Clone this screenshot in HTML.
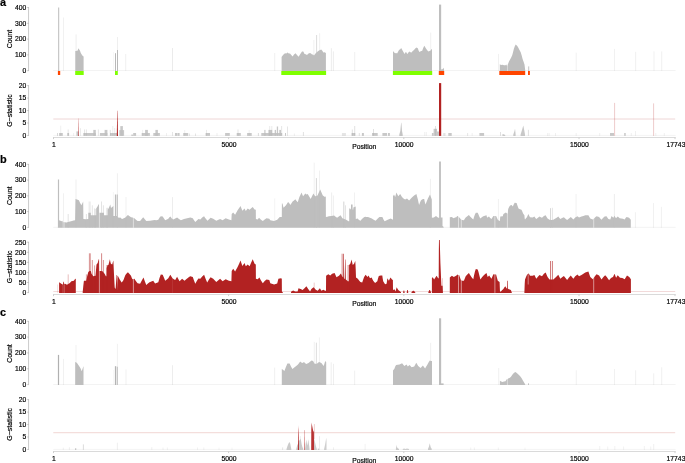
<!DOCTYPE html>
<html lang="en">
<head>
<meta charset="utf-8">
<title>Coverage and G-statistic by position</title>
<style>
html,body{margin:0;padding:0;background:#fff;}
body{width:685px;height:463px;overflow:hidden;}
svg{display:block;}
svg text{font-family:"Liberation Sans", sans-serif;fill:#000;stroke:#000;stroke-width:0.18px;}
</style>
</head>
<body>
<svg width="685" height="463" viewBox="0 0 685 463">
<rect x="0" y="0" width="685" height="463" fill="#ffffff"/>
<text x="0" y="6" font-size="10.9" text-anchor="start" font-weight="bold">a</text>
<line x1="28.55" y1="7.2" x2="28.55" y2="71" stroke="#b4b4b4" stroke-width="0.7"/>
<line x1="27.2" y1="7.5" x2="28.9" y2="7.5" stroke="#b4b4b4" stroke-width="0.7"/>
<text x="26.2" y="9.85" font-size="6.75" text-anchor="end">400</text>
<line x1="27.2" y1="23.3" x2="28.9" y2="23.3" stroke="#b4b4b4" stroke-width="0.7"/>
<text x="26.2" y="25.65" font-size="6.75" text-anchor="end">300</text>
<line x1="27.2" y1="39.1" x2="28.9" y2="39.1" stroke="#b4b4b4" stroke-width="0.7"/>
<text x="26.2" y="41.45" font-size="6.75" text-anchor="end">200</text>
<line x1="27.2" y1="54.9" x2="28.9" y2="54.9" stroke="#b4b4b4" stroke-width="0.7"/>
<text x="26.2" y="57.25" font-size="6.75" text-anchor="end">100</text>
<line x1="27.2" y1="70.7" x2="28.9" y2="70.7" stroke="#b4b4b4" stroke-width="0.7"/>
<text x="26.2" y="73.05" font-size="6.75" text-anchor="end">0</text>
<text x="12.3" y="39.1" font-size="6.95" text-anchor="middle" transform="rotate(-90 12.3 39.1)">Count</text>
<line x1="53.3" y1="70.5" x2="675.6" y2="70.5" stroke="#f3f3f3" stroke-width="1"/>
<rect x="57.9" y="71" width="2.3" height="4" fill="#ff4500"/>
<rect x="75.2" y="71" width="8.5" height="4" fill="#7fff00"/>
<rect x="115" y="71" width="2.8" height="4" fill="#7fff00"/>
<rect x="281.3" y="71" width="44.8" height="4" fill="#7fff00"/>
<rect x="392.9" y="71" width="39.3" height="4" fill="#7fff00"/>
<rect x="438.8" y="71" width="5.4" height="4" fill="#ff4500"/>
<rect x="499.3" y="71" width="25.9" height="4" fill="#ff4500"/>
<rect x="528" y="71" width="1.9" height="4" fill="#ff4500"/>
<line x1="58.7" y1="7.5" x2="58.7" y2="71" stroke="#a0a0a0" stroke-width="0.8" stroke-opacity="0.9"/>
<line x1="63.5" y1="17.5" x2="63.5" y2="71" stroke="#bebebe" stroke-width="0.7" stroke-opacity="0.3"/>
<line x1="76.1" y1="34.4" x2="76.1" y2="71" stroke="#bebebe" stroke-width="0.7" stroke-opacity="0.35"/>
<polygon points="75.3,71 75.3,50.9 77.5,50.7 78.5,48.2 79.2,49.6 80,50.7 80.8,53 82,55 82.8,56 83.6,56.5 83.6,71" fill="#bebebe"/>
<rect x="115" y="53.2" width="0.8" height="17.8" fill="#a8a8a8"/>
<rect x="117.1" y="50" width="0.8" height="21" fill="#a8a8a8"/>
<line x1="117.5" y1="37" x2="117.5" y2="50" stroke="#bebebe" stroke-width="0.7" stroke-opacity="0.35"/>
<line x1="113.4" y1="52" x2="113.4" y2="71" stroke="#bebebe" stroke-width="0.7" stroke-opacity="0.15"/>
<line x1="125.7" y1="54" x2="125.7" y2="71" stroke="#bebebe" stroke-width="0.7" stroke-opacity="0.3"/>
<line x1="172.5" y1="48" x2="172.5" y2="71" stroke="#bebebe" stroke-width="0.7" stroke-opacity="0.45"/>
<line x1="274.7" y1="53" x2="274.7" y2="71" stroke="#bebebe" stroke-width="0.7" stroke-opacity="0.3"/>
<line x1="313.9" y1="40" x2="313.9" y2="71" stroke="#bebebe" stroke-width="0.7" stroke-opacity="0.3"/>
<line x1="316.6" y1="35" x2="316.6" y2="71" stroke="#bebebe" stroke-width="0.7" stroke-opacity="0.8"/>
<line x1="319.6" y1="33.2" x2="319.6" y2="71" stroke="#bebebe" stroke-width="0.7" stroke-opacity="0.3"/>
<line x1="331.4" y1="48.2" x2="331.4" y2="71" stroke="#bebebe" stroke-width="0.7" stroke-opacity="0.4"/>
<line x1="333.4" y1="51.4" x2="333.4" y2="71" stroke="#bebebe" stroke-width="0.7" stroke-opacity="0.4"/>
<line x1="354.7" y1="52" x2="354.7" y2="71" stroke="#bebebe" stroke-width="0.7" stroke-opacity="0.3"/>
<line x1="430.7" y1="32.6" x2="430.7" y2="71" stroke="#bebebe" stroke-width="0.7" stroke-opacity="0.3"/>
<line x1="498.5" y1="53.9" x2="498.5" y2="71" stroke="#bebebe" stroke-width="0.7" stroke-opacity="0.3"/>
<line x1="576.2" y1="52.7" x2="576.2" y2="71" stroke="#bebebe" stroke-width="0.7" stroke-opacity="0.3"/>
<line x1="614.5" y1="48.9" x2="614.5" y2="71" stroke="#bebebe" stroke-width="0.7" stroke-opacity="0.3"/>
<line x1="635.6" y1="51.9" x2="635.6" y2="71" stroke="#bebebe" stroke-width="0.7" stroke-opacity="0.3"/>
<line x1="654" y1="51.4" x2="654" y2="71" stroke="#bebebe" stroke-width="0.7" stroke-opacity="0.3"/>
<line x1="661.7" y1="51.4" x2="661.7" y2="71" stroke="#bebebe" stroke-width="0.7" stroke-opacity="0.3"/>
<polygon points="281.6,71 281.6,57 281.9,56.4 283.5,54.5 285,53.3 286.3,53.5 287.6,52.4 288.8,53.4 290,53.6 291.3,55 292.6,56.4 294,54.6 295.5,53.3 297,55 298.6,56.8 300.3,54 302,51.4 303.3,51.6 304.5,54.1 305.7,54.2 307,54.9 308.5,53.5 310,52.9 311,53.5 312,54.5 313,54.6 314,55.4 315.5,53.5 317,52 319,50.5 321.2,49.5 322.3,50.8 323.4,52.4 324.6,52.2 325.9,52.9 325.9,71" fill="#bebebe"/>
<polygon points="393,71 393,51.1 394.2,52.5 395.2,53.3 396.1,53 397.1,53.6 399,50.1 400.2,49.3 401.2,47.9 402.7,50.8 403.7,52.5 404.6,53.9 405.3,52.6 406.1,52 406.8,53.2 407.5,54.1 408.4,52.5 409.3,51.4 410.4,52.2 411.5,52.4 412.7,51 414,50.1 415.2,48.6 416.5,47.4 417.8,48.2 418.6,50.4 419.3,52 420.7,51.2 422.2,50.8 423.2,48 424.3,45.7 425.2,47.3 426,48.6 427.2,50.2 428.5,51.6 429.5,51 430.4,50.8 431.2,49.5 432,48.9 432,71" fill="#bebebe"/>
<rect x="439" y="4.6" width="2.15" height="66.4" fill="#bebebe"/>
<polygon points="440.9,71 440.9,69.5 442.5,69.2 443.5,67.7 444,69.5 444,71" fill="#bebebe"/>
<polygon points="499.8,71 499.8,64.3 501,65 502.5,64.8 504,65.3 505.5,65.2 506.2,64.6 507,65.8 507.2,65.8 508,63.9 509,61.6 510.1,59.5 511.2,57.6 512.3,55.1 513.1,52 513.9,48.8 514.8,46.2 515.7,44.4 516.5,45.2 517.3,46.1 518.2,47.6 519.5,50 520.8,52.6 521.7,55.6 522.6,58.9 523.5,61.6 524.5,64.5 525.2,70 525.2,71" fill="#bebebe"/>
<line x1="507.5" y1="64.5" x2="507.5" y2="71" stroke="#fff" stroke-width="0.45" stroke-opacity="0.85"/>
<line x1="528.7" y1="66.4" x2="528.7" y2="71" stroke="#999" stroke-width="0.6" stroke-opacity="0.9"/>
<line x1="28.55" y1="85.3" x2="28.55" y2="135.8" stroke="#b4b4b4" stroke-width="0.7"/>
<line x1="27.2" y1="85.6" x2="28.9" y2="85.6" stroke="#b4b4b4" stroke-width="0.7"/>
<text x="26.2" y="87.95" font-size="6.75" text-anchor="end">20</text>
<line x1="27.2" y1="98.1" x2="28.9" y2="98.1" stroke="#b4b4b4" stroke-width="0.7"/>
<text x="26.2" y="100.45" font-size="6.75" text-anchor="end">15</text>
<line x1="27.2" y1="110.55" x2="28.9" y2="110.55" stroke="#b4b4b4" stroke-width="0.7"/>
<text x="26.2" y="112.9" font-size="6.75" text-anchor="end">10</text>
<line x1="27.2" y1="123" x2="28.9" y2="123" stroke="#b4b4b4" stroke-width="0.7"/>
<text x="26.2" y="125.35" font-size="6.75" text-anchor="end">5</text>
<line x1="27.2" y1="135.5" x2="28.9" y2="135.5" stroke="#b4b4b4" stroke-width="0.7"/>
<text x="26.2" y="137.85" font-size="6.75" text-anchor="end">0</text>
<text x="12.3" y="110.5" font-size="6.95" text-anchor="middle" transform="rotate(-90 12.3 110.5)">G−statistic</text>
<line x1="53.3" y1="119" x2="675.2" y2="119" stroke="#efd6d6" stroke-width="1"/>
<line x1="53" y1="137.5" x2="675.7" y2="137.5" stroke="#dadada" stroke-width="1"/>
<line x1="53.5" y1="137.5" x2="53.5" y2="139.1" stroke="#c4c4c4" stroke-width="0.8"/>
<text x="53.8" y="146.6" font-size="6.75" text-anchor="middle">1</text>
<line x1="228.6" y1="137.5" x2="228.6" y2="139.1" stroke="#c4c4c4" stroke-width="0.8"/>
<text x="228.9" y="146.6" font-size="6.75" text-anchor="middle">5000</text>
<line x1="403.8" y1="137.5" x2="403.8" y2="139.1" stroke="#c4c4c4" stroke-width="0.8"/>
<text x="404.1" y="146.6" font-size="6.75" text-anchor="middle">10000</text>
<line x1="579" y1="137.5" x2="579" y2="139.1" stroke="#c4c4c4" stroke-width="0.8"/>
<text x="579.3" y="146.6" font-size="6.75" text-anchor="middle">15000</text>
<line x1="675" y1="137.5" x2="675" y2="139.1" stroke="#c4c4c4" stroke-width="0.8"/>
<text x="676" y="146.6" font-size="6.75" text-anchor="middle">17743</text>
<text x="364.2" y="149.1" font-size="6.75" text-anchor="middle">Position</text>
<line x1="53.3" y1="135.4" x2="675.6" y2="135.4" stroke="#f4f4f4" stroke-width="1"/>
<rect x="57.2" y="133" width="0.7" height="2.9" fill="#bebebe" fill-opacity="0.85"/>
<rect x="59.1" y="133" width="3.7" height="2.9" fill="#bebebe" fill-opacity="0.85"/>
<rect x="67.3" y="133" width="1.8" height="2.9" fill="#bebebe" fill-opacity="0.85"/>
<rect x="76.4" y="131.4" width="2.2" height="4.5" fill="#bebebe" fill-opacity="0.85"/>
<rect x="83.3" y="133" width="12.5" height="2.9" fill="#bebebe" fill-opacity="0.85"/>
<rect x="93.3" y="129.9" width="2.5" height="6" fill="#bebebe" fill-opacity="0.85"/>
<rect x="99.9" y="133" width="7.5" height="2.9" fill="#bebebe" fill-opacity="0.85"/>
<rect x="104.6" y="129.9" width="2.8" height="6" fill="#bebebe" fill-opacity="0.85"/>
<rect x="110" y="133" width="7.2" height="2.9" fill="#bebebe" fill-opacity="0.85"/>
<rect x="119.3" y="130.1" width="4.8" height="5.8" fill="#bebebe" fill-opacity="0.85"/>
<rect x="120.3" y="126.1" width="2.6" height="9.8" fill="#bebebe" fill-opacity="0.85"/>
<rect x="131.3" y="134.6" width="1.9" height="1.3" fill="#bebebe" fill-opacity="0.85"/>
<rect x="133.2" y="133" width="2.9" height="2.9" fill="#bebebe" fill-opacity="0.85"/>
<rect x="141.7" y="133" width="8.2" height="2.9" fill="#bebebe" fill-opacity="0.85"/>
<rect x="145.1" y="129.9" width="2.8" height="6" fill="#bebebe" fill-opacity="0.85"/>
<rect x="153.3" y="133" width="6.6" height="2.9" fill="#bebebe" fill-opacity="0.85"/>
<rect x="155.4" y="129.9" width="2.5" height="6" fill="#bebebe" fill-opacity="0.85"/>
<rect x="175" y="133" width="2.2" height="2.9" fill="#bebebe" fill-opacity="0.85"/>
<rect x="177.5" y="133" width="2.1" height="2.9" fill="#bebebe" fill-opacity="0.85"/>
<rect x="183.2" y="133" width="5" height="2.9" fill="#bebebe" fill-opacity="0.85"/>
<rect x="205.6" y="133" width="4.4" height="2.9" fill="#bebebe" fill-opacity="0.85"/>
<rect x="225.1" y="133" width="4.7" height="2.9" fill="#bebebe" fill-opacity="0.85"/>
<rect x="236.7" y="133" width="4.1" height="2.9" fill="#bebebe" fill-opacity="0.85"/>
<rect x="247.1" y="133" width="4.6" height="2.9" fill="#bebebe" fill-opacity="0.85"/>
<rect x="261.3" y="133" width="20.9" height="2.9" fill="#bebebe" fill-opacity="0.85"/>
<rect x="264.3" y="129.9" width="1.2" height="6" fill="#bebebe" fill-opacity="0.85"/>
<rect x="268.4" y="129.9" width="3.8" height="6" fill="#bebebe" fill-opacity="0.85"/>
<rect x="274.7" y="129.9" width="1.3" height="6" fill="#bebebe" fill-opacity="0.85"/>
<rect x="276.8" y="126.5" width="1.3" height="9.4" fill="#bebebe" fill-opacity="0.85"/>
<rect x="279.3" y="129.9" width="1.7" height="6" fill="#bebebe" fill-opacity="0.85"/>
<rect x="285" y="133" width="1" height="2.9" fill="#bebebe" fill-opacity="0.85"/>
<rect x="351.6" y="133" width="3.7" height="2.9" fill="#bebebe" fill-opacity="0.85"/>
<rect x="361.9" y="133" width="2" height="2.9" fill="#bebebe" fill-opacity="0.85"/>
<rect x="372" y="133" width="5.7" height="2.9" fill="#bebebe" fill-opacity="0.85"/>
<rect x="382.4" y="133" width="4.7" height="2.9" fill="#bebebe" fill-opacity="0.85"/>
<rect x="388" y="133" width="1.9" height="2.9" fill="#bebebe" fill-opacity="0.85"/>
<rect x="431.9" y="133" width="1.7" height="2.9" fill="#bebebe" fill-opacity="0.85"/>
<rect x="433.6" y="128.8" width="3.4" height="7.1" fill="#bebebe" fill-opacity="0.85"/>
<rect x="437" y="131.5" width="2.2" height="4.4" fill="#bebebe" fill-opacity="0.85"/>
<rect x="448.3" y="133" width="3.4" height="2.9" fill="#bebebe" fill-opacity="0.85"/>
<rect x="479.4" y="133" width="4.7" height="2.9" fill="#bebebe" fill-opacity="0.85"/>
<rect x="610" y="133" width="4" height="2.9" fill="#bebebe" fill-opacity="0.85"/>
<rect x="624.2" y="133" width="1.5" height="2.9" fill="#bebebe" fill-opacity="0.85"/>
<rect x="341.9" y="133" width="4" height="2.9" fill="#bebebe" fill-opacity="0.4"/>
<rect x="443.2" y="133" width="2.3" height="2.9" fill="#bebebe" fill-opacity="0.4"/>
<rect x="189" y="133.5" width="1" height="2.4" fill="#bebebe" fill-opacity="0.4"/>
<rect x="195" y="133.5" width="1" height="2.4" fill="#bebebe" fill-opacity="0.4"/>
<line x1="60.7" y1="125.7" x2="60.7" y2="135.9" stroke="#aaa" stroke-width="0.6" stroke-opacity="0.3"/>
<line x1="68.2" y1="129.5" x2="68.2" y2="135.9" stroke="#aaa" stroke-width="0.6" stroke-opacity="0.5"/>
<line x1="73.6" y1="133" x2="73.6" y2="135.9" stroke="#aaa" stroke-width="0.6" stroke-opacity="0.3"/>
<line x1="80.5" y1="128.2" x2="80.5" y2="135.9" stroke="#aaa" stroke-width="0.6" stroke-opacity="0.4"/>
<line x1="84.5" y1="129.5" x2="84.5" y2="135.9" stroke="#aaa" stroke-width="0.6" stroke-opacity="0.5"/>
<line x1="86.4" y1="129.5" x2="86.4" y2="135.9" stroke="#aaa" stroke-width="0.6" stroke-opacity="0.5"/>
<line x1="98.4" y1="129.5" x2="98.4" y2="135.9" stroke="#aaa" stroke-width="0.6" stroke-opacity="0.5"/>
<line x1="110.3" y1="129.9" x2="110.3" y2="135.9" stroke="#aaa" stroke-width="0.6" stroke-opacity="0.6"/>
<line x1="112.8" y1="126" x2="112.8" y2="135.9" stroke="#aaa" stroke-width="0.6" stroke-opacity="0.35"/>
<line x1="114.7" y1="128" x2="114.7" y2="135.9" stroke="#aaa" stroke-width="0.6" stroke-opacity="0.4"/>
<line x1="142.6" y1="129.9" x2="142.6" y2="135.9" stroke="#aaa" stroke-width="0.6" stroke-opacity="0.3"/>
<line x1="166.5" y1="133" x2="166.5" y2="135.9" stroke="#aaa" stroke-width="0.6" stroke-opacity="0.3"/>
<line x1="172.5" y1="132" x2="172.5" y2="135.9" stroke="#aaa" stroke-width="0.6" stroke-opacity="0.5"/>
<line x1="184.7" y1="130" x2="184.7" y2="135.9" stroke="#aaa" stroke-width="0.6" stroke-opacity="0.3"/>
<line x1="206.5" y1="129.9" x2="206.5" y2="135.9" stroke="#aaa" stroke-width="0.6" stroke-opacity="0.4"/>
<line x1="217" y1="133" x2="217" y2="135.9" stroke="#aaa" stroke-width="0.6" stroke-opacity="0.3"/>
<line x1="238" y1="129.5" x2="238" y2="135.9" stroke="#aaa" stroke-width="0.6" stroke-opacity="0.5"/>
<line x1="249.2" y1="130" x2="249.2" y2="135.9" stroke="#aaa" stroke-width="0.6" stroke-opacity="0.3"/>
<line x1="258.4" y1="133" x2="258.4" y2="135.9" stroke="#aaa" stroke-width="0.6" stroke-opacity="0.7"/>
<line x1="269.7" y1="126" x2="269.7" y2="135.9" stroke="#aaa" stroke-width="0.6" stroke-opacity="0.4"/>
<line x1="271.8" y1="126" x2="271.8" y2="135.9" stroke="#aaa" stroke-width="0.6" stroke-opacity="0.4"/>
<line x1="281.6" y1="126" x2="281.6" y2="135.9" stroke="#aaa" stroke-width="0.6" stroke-opacity="0.5"/>
<line x1="287.5" y1="126.5" x2="287.5" y2="135.9" stroke="#aaa" stroke-width="0.6" stroke-opacity="0.5"/>
<line x1="294.4" y1="133.5" x2="294.4" y2="135.9" stroke="#aaa" stroke-width="0.6" stroke-opacity="0.3"/>
<line x1="303.4" y1="132" x2="303.4" y2="135.9" stroke="#aaa" stroke-width="0.6" stroke-opacity="0.6"/>
<line x1="352.3" y1="129.5" x2="352.3" y2="135.9" stroke="#aaa" stroke-width="0.6" stroke-opacity="0.6"/>
<line x1="354.7" y1="126" x2="354.7" y2="135.9" stroke="#aaa" stroke-width="0.6" stroke-opacity="0.6"/>
<line x1="359.3" y1="133" x2="359.3" y2="135.9" stroke="#aaa" stroke-width="0.6" stroke-opacity="0.6"/>
<line x1="373.5" y1="129" x2="373.5" y2="135.9" stroke="#aaa" stroke-width="0.6" stroke-opacity="0.6"/>
<line x1="424.7" y1="132" x2="424.7" y2="135.9" stroke="#aaa" stroke-width="0.6" stroke-opacity="0.3"/>
<line x1="426.3" y1="132" x2="426.3" y2="135.9" stroke="#aaa" stroke-width="0.6" stroke-opacity="0.3"/>
<line x1="435.5" y1="126" x2="435.5" y2="135.9" stroke="#aaa" stroke-width="0.6" stroke-opacity="0.6"/>
<line x1="467.6" y1="133" x2="467.6" y2="135.9" stroke="#aaa" stroke-width="0.6" stroke-opacity="0.5"/>
<line x1="472.2" y1="133" x2="472.2" y2="135.9" stroke="#aaa" stroke-width="0.6" stroke-opacity="0.3"/>
<line x1="500.5" y1="132" x2="500.5" y2="135.9" stroke="#aaa" stroke-width="0.6" stroke-opacity="0.6"/>
<line x1="528.4" y1="129.8" x2="528.4" y2="135.9" stroke="#aaa" stroke-width="0.6" stroke-opacity="0.6"/>
<line x1="547.6" y1="133" x2="547.6" y2="135.9" stroke="#aaa" stroke-width="0.6" stroke-opacity="0.3"/>
<line x1="549.1" y1="133" x2="549.1" y2="135.9" stroke="#aaa" stroke-width="0.6" stroke-opacity="0.3"/>
<line x1="555.5" y1="133" x2="555.5" y2="135.9" stroke="#aaa" stroke-width="0.6" stroke-opacity="0.3"/>
<line x1="576.2" y1="133" x2="576.2" y2="135.9" stroke="#aaa" stroke-width="0.6" stroke-opacity="0.3"/>
<line x1="599.7" y1="133" x2="599.7" y2="135.9" stroke="#aaa" stroke-width="0.6" stroke-opacity="0.3"/>
<line x1="631.3" y1="133" x2="631.3" y2="135.9" stroke="#aaa" stroke-width="0.6" stroke-opacity="0.3"/>
<line x1="635.5" y1="131" x2="635.5" y2="135.9" stroke="#aaa" stroke-width="0.6" stroke-opacity="0.3"/>
<line x1="655.8" y1="133" x2="655.8" y2="135.9" stroke="#aaa" stroke-width="0.6" stroke-opacity="0.3"/>
<line x1="664.3" y1="133" x2="664.3" y2="135.9" stroke="#aaa" stroke-width="0.6" stroke-opacity="0.3"/>
<polygon points="399.3,135.9 399.3,134.5 400.3,131 401,124 401.2,122.3 401.5,124 402,131 402.7,134.5 402.7,135.9" fill="#bebebe" fill-opacity="0.9"/>
<polygon points="502.4,135.9 502.4,134.6 503,134 505.2,135 505.2,135.9" fill="#bebebe" fill-opacity="0.8"/>
<polygon points="513.3,135.9 513.3,134.5 514.5,131 515,128.8 515.3,131 515.6,134.5 515.6,135.9" fill="#bebebe" fill-opacity="0.85"/>
<polygon points="520.6,135.9 520.6,134.5 522,130 523.3,125.6 524.2,130 525,134.5 525,135.9" fill="#bebebe" fill-opacity="0.85"/>
<polygon points="78,135.9 78,135.9 78.3,118.2 78.5,118.2 78.8,135.9 78.8,135.9" fill="#b22222" fill-opacity="0.75"/>
<polygon points="116.8,135.9 116.8,135.9 117.2,110.7 117.5,110.7 118,135.9 118,135.9" fill="#b22222" fill-opacity="1"/>
<rect x="439" y="83.1" width="2.2" height="52.8" fill="#b22222"/>
<line x1="614.6" y1="102.9" x2="614.6" y2="135.9" stroke="#b22222" stroke-width="0.6" stroke-opacity="0.4"/>
<line x1="653.6" y1="103.4" x2="653.6" y2="135.9" stroke="#b22222" stroke-width="0.6" stroke-opacity="0.4"/>
<text x="0" y="162.7" font-size="10.9" text-anchor="start" font-weight="bold">b</text>
<line x1="28.55" y1="164" x2="28.55" y2="227.7" stroke="#b4b4b4" stroke-width="0.7"/>
<line x1="27.2" y1="164.3" x2="28.9" y2="164.3" stroke="#b4b4b4" stroke-width="0.7"/>
<text x="26.2" y="166.65" font-size="6.75" text-anchor="end">400</text>
<line x1="27.2" y1="180.1" x2="28.9" y2="180.1" stroke="#b4b4b4" stroke-width="0.7"/>
<text x="26.2" y="182.45" font-size="6.75" text-anchor="end">300</text>
<line x1="27.2" y1="195.85" x2="28.9" y2="195.85" stroke="#b4b4b4" stroke-width="0.7"/>
<text x="26.2" y="198.2" font-size="6.75" text-anchor="end">200</text>
<line x1="27.2" y1="211.6" x2="28.9" y2="211.6" stroke="#b4b4b4" stroke-width="0.7"/>
<text x="26.2" y="213.95" font-size="6.75" text-anchor="end">100</text>
<line x1="27.2" y1="227.4" x2="28.9" y2="227.4" stroke="#b4b4b4" stroke-width="0.7"/>
<text x="26.2" y="229.75" font-size="6.75" text-anchor="end">0</text>
<text x="12.3" y="195.8" font-size="6.95" text-anchor="middle" transform="rotate(-90 12.3 195.8)">Count</text>
<line x1="53.3" y1="227.3" x2="675.6" y2="227.3" stroke="#f3f3f3" stroke-width="1"/>
<polygon points="57.9,227.8 57.9,179.5 59.1,179.5 59.1,220.3 60.5,220.8 61.5,221.3 62.6,220.8 62.6,222.2 64.8,222.2 66.5,222.5 68.2,222 70,221.6 72,220.9 73.5,220.6 75.1,220.3 75.5,199 77,199.4 78.9,200.2 80,202.8 81.4,205.3 82.5,203 83.2,201.5 83.4,219.1 86,219.3 88.3,219.1 88.3,212.8 90.8,212.8 90.8,215.3 96.2,215.3 96.2,208.4 97.5,206.5 98.6,204.2 99,204.6 99.2,212.8 104,212.8 104,215.3 107.8,215.3 107.8,209.7 109,207.5 110.3,204.4 111,208 112.2,207 113.4,206.1 113.4,215.9 114.9,215.9 114.9,194.6 116.2,194.6 116.2,215.9 116.8,215.9 116.8,194.6 117.8,194.6 117.8,217.2 119,217.8 120.3,217.4 121.3,218.4 122.2,219.1 123.8,218.3 125.4,217.4 126.6,216.2 127.9,215 129.3,216 131,217.2 132.5,217.4 134.4,218.2 136,219.8 137.6,221 140.1,221 141.7,219 143.2,217.2 144.8,219.3 146.3,221 150.1,220.7 154.5,220 156.4,220.3 158.3,219.8 159.6,217.5 160.8,216.2 162.7,216.6 164,218.6 165.2,220.3 166.8,219.5 168.3,218.7 169.4,217.3 170.4,216.6 171.8,218.5 173.3,219.5 175.2,218.5 177.1,217.4 179,219 180.9,220.3 184,219.1 187.1,218.2 190.3,217.4 192.8,218.2 194,220.3 195.3,222 196.9,220.4 198.4,219.1 200.3,219.4 202.2,217.6 204.1,216.2 205,217.8 207.5,220.7 210.6,217.8 213.2,218.7 216.3,220.7 220.1,219.1 222.6,220.3 225.7,218.2 228.9,219.5 231.4,220.3 231.7,214.1 233.2,212.4 235.1,214.7 237.6,210.3 239,208.3 240.5,206.1 242.4,210.7 244.5,208.4 245.8,210.9 247.7,208.4 249.6,209.7 251.2,208.2 252.7,206.9 254.6,209.4 255.8,209.7 255.9,219.1 257.7,219.5 259,217.8 261,219.7 262.8,221 264.7,219.5 266.5,218.2 269.3,218.7 270.3,220.3 274.1,221 277.2,219.7 279.7,216.9 281.8,216.9 281.9,203.4 282.5,203.4 283.5,207.8 284.8,206.4 286,205.3 288.1,202.1 289.5,203.6 290.3,205 291.5,203.2 292.6,201.6 294,200.4 295.3,199.3 296.6,200.9 297.8,202.3 298.6,199.5 299.4,197 300.5,194.7 301.6,192.5 302.3,194.5 303.1,196.3 304.3,194.8 305.4,193.6 306.5,194.4 307.7,194 309.2,196.6 310.7,199 312,196.2 313.4,193.6 314.3,195 315.2,196.3 316.4,195.9 317.5,195.5 318.8,192.6 320.2,189.5 321.5,192.6 322.8,195.5 325,197 325.8,196.3 325.9,217.1 327.4,216.7 328.8,216.2 331.5,215.9 334.1,215.6 335.6,216.8 337.1,217.7 338.8,216.4 340.6,215.2 341.5,216.7 342.4,218.2 344.3,218.9 346.2,219.7 348.5,221.2 349.2,221.2 349.2,208.4 350.3,208.4 350.3,209.3 351,209.3 351,204.6 352.6,204.6 352.6,209.6 353.3,209.6 353.3,207.6 354.5,207 355.7,206.4 355.8,218.9 357.6,218.6 359,219.9 360.6,220.8 361.7,219.3 362.8,218.2 364,217.3 365.1,216.7 366.5,217 368,217.1 371.8,218.6 373.7,219.8 375.6,220.8 377.5,218.8 379.4,217.1 382.4,217.1 383.5,219.4 384.6,221.2 386.2,220.4 387.7,219.7 390.7,218.6 393,219.7 393,196.3 394,194.5 395.2,197 396.4,192.5 397.4,194.5 398.3,196.3 399.3,195 400.2,194 401.1,195.6 402,197 403.5,198.4 405.1,199.6 407,198.5 408,199.4 409.1,200.5 410.5,198.9 411.9,197.5 413,196.4 414.1,195.5 415.3,194.7 416.4,194 417.2,196.9 417.9,199.6 418.5,202.4 419.1,205 420,202.6 420.9,200.5 422,199.6 423.2,199 424.2,199 424.8,202 425.5,204.6 426.6,201.7 427.7,199 428.8,196.8 430,194.5 430.9,197 431.8,199.6 431.9,217.7 433.8,217.4 436,215.9 437.2,216.9 438.3,217.7 439.1,217.7 439.1,161.5 440.9,161.5 440.9,217.4 442.5,217.4 442.5,226 443.3,226.5 443.6,227.3 443.6,227.8" fill="#bebebe"/>
<polygon points="449.8,227.8 449.8,217.2 451.9,217 452.8,217.8 453.8,218.2 455,217.6 456.3,217.2 457,216.3 457.6,215.9 458.3,216.5 459.1,217.2 460,218.2 460.7,219.1 461.5,219.8 462.2,220 463.9,220.3 464.8,218.8 465.7,217.4 467.3,216.2 468.9,215.1 470.1,216.4 471.4,217.8 472.4,218.8 473.3,219.5 474,217 474.9,214.5 475.8,212.8 477.7,212.8 478.5,214.5 479.5,217 480.4,218.5 481.8,217.2 483.3,216.2 484.9,215.7 486.5,215.3 487.1,217.8 488,217.1 489,216.6 490.2,217.9 491.5,219.1 492.4,217.5 493.4,215.9 496.1,215.9 496.9,217.8 497.8,219.7 498.7,220.4 499.6,221 499.8,221 500.3,216.6 502.8,216.2 503.4,214.1 504.6,213.3 505.9,212.4 506.5,213 507.2,213.4 507.7,213.4 508.2,209 509,207.3 509.7,205.9 510.6,205.3 511.6,204.9 512.2,205.8 512.8,206.5 513.7,204.5 514.7,202.8 516.6,203.1 517.5,205.8 518.5,208.4 520,209.2 521.5,209.7 522.3,211.6 523.1,213.4 524.4,215.3 524.7,218.5 525,219.5 526,218.3 526.9,217.2 527.7,215.6 528.5,214.1 529.2,215.7 530,217.2 532.6,217.4 534.4,216.6 535.4,217.9 536.3,219.1 537.9,217.8 539.5,216.6 540.8,217.3 542,217.8 543.9,215.9 545.7,215.3 546.6,216.9 547.6,218.5 549.5,219.7 551.4,220 553.3,219.7 554.5,218.9 555.8,218.2 557,217.4 558.3,216.6 559.4,217.9 560.4,219.1 562.1,218.1 563.9,217.2 565.5,218.7 567.1,220 569,218.4 570.8,216.9 572.1,218.3 573.4,219.5 575.2,217.4 577.5,216.2 579,217.4 581.5,216.6 583.4,215.9 585.3,215.3 588.4,215.3 589.4,217 590.3,218.5 592.8,219.5 594.3,218.2 595.5,217.1 596.6,216.2 599.1,216.9 600.3,218.4 601.5,219.7 603,218.1 604.6,216.6 606.5,216.2 607.5,217.7 608.4,219.1 610.3,219.5 611,217.5 611.6,215.9 612.5,216.9 613.4,217.8 614.4,215.7 615.2,217 616,218.2 616.9,217.3 617.8,216.6 619.7,218.2 622.9,218.7 624.7,219.5 625.6,218 626.6,216.9 629.1,217.8 630.8,219.7 630.8,227.8" fill="#bebebe"/>
<rect x="62.6" y="222.2" width="2.2" height="5.6" fill="#fff" fill-opacity="0.35"/>
<line x1="63.5" y1="193.3" x2="63.5" y2="227.8" stroke="#bebebe" stroke-width="0.7" stroke-opacity="0.3"/>
<line x1="68.2" y1="214" x2="68.2" y2="227.8" stroke="#bebebe" stroke-width="0.7" stroke-opacity="0.6"/>
<line x1="76" y1="179.5" x2="76" y2="227.8" stroke="#bebebe" stroke-width="0.7" stroke-opacity="0.35"/>
<line x1="86.4" y1="214" x2="86.4" y2="227.8" stroke="#bebebe" stroke-width="0.7" stroke-opacity="0.6"/>
<line x1="89.1" y1="201.5" x2="89.1" y2="227.8" stroke="#bebebe" stroke-width="0.7" stroke-opacity="0.45"/>
<line x1="90.2" y1="201.5" x2="90.2" y2="227.8" stroke="#bebebe" stroke-width="0.7" stroke-opacity="0.45"/>
<line x1="92.3" y1="205.3" x2="92.3" y2="227.8" stroke="#bebebe" stroke-width="0.7" stroke-opacity="0.6"/>
<line x1="94.6" y1="208.4" x2="94.6" y2="227.8" stroke="#bebebe" stroke-width="0.7" stroke-opacity="0.6"/>
<line x1="95.6" y1="209" x2="95.6" y2="227.8" stroke="#bebebe" stroke-width="0.7" stroke-opacity="0.5"/>
<line x1="101.5" y1="201.5" x2="101.5" y2="227.8" stroke="#bebebe" stroke-width="0.7" stroke-opacity="0.6"/>
<line x1="103.4" y1="205.3" x2="103.4" y2="227.8" stroke="#bebebe" stroke-width="0.7" stroke-opacity="0.6"/>
<line x1="106.7" y1="207.8" x2="106.7" y2="227.8" stroke="#bebebe" stroke-width="0.7" stroke-opacity="0.5"/>
<line x1="107.5" y1="207.8" x2="107.5" y2="227.8" stroke="#bebebe" stroke-width="0.7" stroke-opacity="0.5"/>
<line x1="113.4" y1="192" x2="113.4" y2="227.8" stroke="#bebebe" stroke-width="0.7" stroke-opacity="0.2"/>
<line x1="117.4" y1="173.3" x2="117.4" y2="227.8" stroke="#bebebe" stroke-width="0.7" stroke-opacity="0.35"/>
<line x1="126" y1="197.1" x2="126" y2="227.8" stroke="#bebebe" stroke-width="0.7" stroke-opacity="0.3"/>
<line x1="172.5" y1="197.1" x2="172.5" y2="227.8" stroke="#bebebe" stroke-width="0.7" stroke-opacity="0.4"/>
<line x1="274.7" y1="198.4" x2="274.7" y2="227.8" stroke="#bebebe" stroke-width="0.7" stroke-opacity="0.25"/>
<line x1="314.2" y1="162.7" x2="314.2" y2="227.8" stroke="#bebebe" stroke-width="0.7" stroke-opacity="0.3"/>
<line x1="316.4" y1="178.1" x2="316.4" y2="227.8" stroke="#bebebe" stroke-width="0.8" stroke-opacity="0.8"/>
<line x1="319.5" y1="170.6" x2="319.5" y2="227.8" stroke="#bebebe" stroke-width="0.7" stroke-opacity="0.3"/>
<line x1="331.6" y1="192.5" x2="331.6" y2="227.8" stroke="#bebebe" stroke-width="0.7" stroke-opacity="0.35"/>
<line x1="333.4" y1="195.5" x2="333.4" y2="227.8" stroke="#bebebe" stroke-width="0.7" stroke-opacity="0.35"/>
<line x1="343.5" y1="201.6" x2="343.5" y2="227.8" stroke="#bebebe" stroke-width="0.7" stroke-opacity="0.5"/>
<line x1="344.1" y1="201.6" x2="344.1" y2="227.8" stroke="#bebebe" stroke-width="0.7" stroke-opacity="0.5"/>
<line x1="345.5" y1="205.3" x2="345.5" y2="227.8" stroke="#bebebe" stroke-width="0.7" stroke-opacity="0.6"/>
<line x1="354.5" y1="192.5" x2="354.5" y2="227.8" stroke="#bebebe" stroke-width="0.7" stroke-opacity="0.3"/>
<line x1="430.4" y1="178.9" x2="430.4" y2="227.8" stroke="#bebebe" stroke-width="0.7" stroke-opacity="0.35"/>
<line x1="498.4" y1="199" x2="498.4" y2="227.8" stroke="#bebebe" stroke-width="0.7" stroke-opacity="0.3"/>
<line x1="550.5" y1="208.2" x2="550.5" y2="227.8" stroke="#bebebe" stroke-width="0.8" stroke-opacity="0.75"/>
<line x1="552.4" y1="207.8" x2="552.4" y2="227.8" stroke="#bebebe" stroke-width="0.7" stroke-opacity="0.6"/>
<line x1="576.1" y1="194" x2="576.1" y2="227.8" stroke="#bebebe" stroke-width="0.7" stroke-opacity="0.3"/>
<line x1="614.4" y1="194" x2="614.4" y2="227.8" stroke="#bebebe" stroke-width="0.7" stroke-opacity="0.4"/>
<line x1="635.4" y1="212.2" x2="635.4" y2="227.8" stroke="#bebebe" stroke-width="0.7" stroke-opacity="0.3"/>
<line x1="653.5" y1="203.1" x2="653.5" y2="227.8" stroke="#bebebe" stroke-width="0.7" stroke-opacity="0.3"/>
<line x1="661.4" y1="206.9" x2="661.4" y2="227.8" stroke="#bebebe" stroke-width="0.7" stroke-opacity="0.3"/>
<line x1="99.4" y1="200" x2="99.4" y2="227.8" stroke="#fff" stroke-width="0.6" stroke-opacity="0.85"/>
<line x1="133.4" y1="200" x2="133.4" y2="227.8" stroke="#fff" stroke-width="0.6" stroke-opacity="0.85"/>
<line x1="458.5" y1="200" x2="458.5" y2="227.8" stroke="#fff" stroke-width="0.6" stroke-opacity="0.85"/>
<line x1="461.3" y1="200" x2="461.3" y2="227.8" stroke="#fff" stroke-width="0.6" stroke-opacity="0.85"/>
<line x1="494.9" y1="200" x2="494.9" y2="227.8" stroke="#fff" stroke-width="0.6" stroke-opacity="0.85"/>
<line x1="507.4" y1="200" x2="507.4" y2="227.8" stroke="#fff" stroke-width="0.6" stroke-opacity="0.85"/>
<line x1="593.7" y1="200" x2="593.7" y2="227.8" stroke="#fff" stroke-width="0.6" stroke-opacity="0.85"/>
<line x1="28.55" y1="241.9" x2="28.55" y2="292.9" stroke="#b4b4b4" stroke-width="0.7"/>
<line x1="27.2" y1="242.2" x2="28.9" y2="242.2" stroke="#b4b4b4" stroke-width="0.7"/>
<text x="26.2" y="244.55" font-size="6.75" text-anchor="end">250</text>
<line x1="27.2" y1="252.3" x2="28.9" y2="252.3" stroke="#b4b4b4" stroke-width="0.7"/>
<text x="26.2" y="254.65" font-size="6.75" text-anchor="end">200</text>
<line x1="27.2" y1="262.35" x2="28.9" y2="262.35" stroke="#b4b4b4" stroke-width="0.7"/>
<text x="26.2" y="264.7" font-size="6.75" text-anchor="end">150</text>
<line x1="27.2" y1="272.45" x2="28.9" y2="272.45" stroke="#b4b4b4" stroke-width="0.7"/>
<text x="26.2" y="274.8" font-size="6.75" text-anchor="end">100</text>
<line x1="27.2" y1="282.5" x2="28.9" y2="282.5" stroke="#b4b4b4" stroke-width="0.7"/>
<text x="26.2" y="284.85" font-size="6.75" text-anchor="end">50</text>
<line x1="27.2" y1="292.6" x2="28.9" y2="292.6" stroke="#b4b4b4" stroke-width="0.7"/>
<text x="26.2" y="294.95" font-size="6.75" text-anchor="end">0</text>
<text x="12.3" y="266.9" font-size="6.95" text-anchor="middle" transform="rotate(-90 12.3 266.9)">G−statistic</text>
<line x1="53.3" y1="291.5" x2="675.2" y2="291.5" stroke="#f2dada" stroke-width="1"/>
<line x1="53" y1="294.5" x2="675.7" y2="294.5" stroke="#dadada" stroke-width="1"/>
<line x1="53.5" y1="294.5" x2="53.5" y2="296.1" stroke="#c4c4c4" stroke-width="0.8"/>
<text x="53.8" y="303.6" font-size="6.75" text-anchor="middle">1</text>
<line x1="228.6" y1="294.5" x2="228.6" y2="296.1" stroke="#c4c4c4" stroke-width="0.8"/>
<text x="228.9" y="303.6" font-size="6.75" text-anchor="middle">5000</text>
<line x1="403.8" y1="294.5" x2="403.8" y2="296.1" stroke="#c4c4c4" stroke-width="0.8"/>
<text x="404.1" y="303.6" font-size="6.75" text-anchor="middle">10000</text>
<line x1="579" y1="294.5" x2="579" y2="296.1" stroke="#c4c4c4" stroke-width="0.8"/>
<text x="579.3" y="303.6" font-size="6.75" text-anchor="middle">15000</text>
<line x1="675" y1="294.5" x2="675" y2="296.1" stroke="#c4c4c4" stroke-width="0.8"/>
<text x="676" y="303.6" font-size="6.75" text-anchor="middle">17743</text>
<text x="364.2" y="306.1" font-size="6.75" text-anchor="middle">Position</text>
<polygon points="59.1,292.9 59.1,282.2 60.2,283 61.3,283.8 62.6,284.4 63,284.4 63.3,281.7 63.8,281.7 64.2,284 65.1,283.8 67,284.7 68.2,284 69.5,283.2 70.5,282.2 71.4,281.3 73.9,280.7 74.7,279.6 75.5,278.8 75.8,278.8 75.8,292.9" fill="#b22222"/>
<polygon points="82.7,292.9 82.7,292 83.3,286 83.9,280.7 86.2,280.7 87.2,276 88.3,271.9 89.5,270.9 90.8,270.9 91.5,273.8 92.4,275 93.3,276.3 94.4,276 95.5,275.7 96,270 96.5,264.4 97.7,263.1 98.2,261 98.7,259.3 99.1,259.3 99.3,270.9 101,270.9 102.5,271.3 103.5,272.5 104.6,273.8 105.9,276.3 106.5,276.3 106.6,268 107.8,265 108.4,265 109.2,262 109.9,259.3 110.4,262 110.9,263.7 112.2,264.4 112.8,262.3 113.4,260.6 113.7,268 114.1,276.3 114.4,282 114.7,287.6 115.6,288.9 116.1,282 116.6,275 117,275 117.3,290.5 117.5,275.7 117.8,275.7 118.7,277.6 119.7,279.4 120.7,281.1 121.6,282.6 122.5,281.4 123.5,280 124.4,277.5 125.4,275 126.6,273.5 127.9,272.2 129.3,273.8 131,275.7 131.8,278 132.5,279.2 134.4,278.8 136,281.2 137.6,283.2 140.1,283.8 141.8,280.5 143.5,277.5 144.9,281.5 146.3,285.1 147.9,283.5 149.5,282.2 151.4,281.4 153.2,280.7 154.2,282.2 155.1,283.4 158.3,282.2 159.5,278 160.8,274.4 162.7,274.7 164,277.8 165.2,280.7 166.8,279.4 168.3,278.2 169.4,276.2 170.4,274.7 171.4,276.5 172.5,278.2 173.8,279.3 175.2,280.1 176.2,278.2 177.1,276.7 178.3,279.1 179.6,281.3 180.8,280 182.1,278.8 183.3,279.8 184.6,280.7 186.2,279.2 187.8,277.9 189,277 190.3,276.3 192.8,276.9 194,280.5 195.3,283.8 196.8,281 198.4,278.4 200.3,278.8 202.2,276.6 204.1,274.7 205.6,278.8 207.2,282.6 209.1,279.3 210.6,277.2 213.2,278.8 216.3,281.9 220.1,278.8 222.6,281.3 225.7,279.2 228.9,280.7 231.4,281.3 231.7,270.9 233.2,268.8 235.1,271.6 237.6,267.1 239,264 240.5,260.6 242.4,265.9 244.5,263.1 245.8,266.2 247.7,264.6 249.6,266.2 251.2,262.5 252.7,259.3 254.6,263.7 255.8,264.4 255.9,278.8 257.7,279.2 259.4,277.5 261,280.5 262.8,283.2 264.7,281 266.5,279.4 269.3,280.1 270.3,283.2 274.1,284.5 277.2,283.4 278.4,278.8 281,278.2 281.8,278.8 281.9,291.4 282.8,292.3 282.8,292.9" fill="#b22222"/>
<polygon points="291,292.9 291,292 291.3,291.4 293.2,290.5 295.1,291.4 297.6,291.4 298.5,288.2 300.7,288.9 302.6,290.1 304.5,288.2 306.4,286.3 308.2,288.9 310.1,291.4 311.4,288.9 313.6,287.2 315.8,289.7 317.7,290.7 319.9,288.2 321.4,290.7 323.3,289.7 325.2,290.7 326,290.7 326.1,275.7 328.3,274.2 330.2,275.4 332.1,273.8 334.6,272.9 336.5,277.2 339,275.7 340.9,273.4 342.1,276.3 343.2,277.5 343.3,253.7 343.9,253.7 344,278.8 344.7,278.8 345.1,259.6 345.5,259.6 345.8,279.5 346.5,280.1 347.8,281.3 349,281.3 349.1,265 350.3,263.7 351,261.5 351.6,259.6 352.2,262.5 352.8,265 354.1,263.7 354.7,262.2 355.3,260.9 355.7,269 356,277.5 357.8,278.8 359.1,280.4 360.4,281.9 362.2,282.6 363.2,279.5 364.1,276.9 365.6,274.7 367.5,276.9 368.5,275.4 370,278.2 371.6,277.5 373.2,280.7 375.1,282.9 377.3,281.3 378,278.5 378.8,275.9 380.7,275.4 382.3,275.4 382.7,278.5 383.2,281.3 385.1,284.2 386.6,283.8 387,281 387.4,278.2 388.9,280.7 389.7,279 390.5,277.5 392,279.4 392.9,280.1 393,290.1 394.5,289.2 395.5,291.4 396.1,289.3 396.7,287.3 397.5,288.8 398.3,290.1 400.2,291.4 401,292.3 401,292.9" fill="#b22222"/>
<polygon points="403.2,292.9 403.2,292 403.6,290.5 404.2,290.5 404.6,292 404.6,292.9" fill="#b22222"/>
<polygon points="406.8,292.9 406.8,292 407.2,290.1 407.8,290.1 408.2,292 408.2,292.9" fill="#b22222"/>
<polygon points="411.5,292.9 411.5,292 413.05,290.7 413.65,290.7 415.2,292 415.2,292.9" fill="#b22222"/>
<polygon points="428.4,292.9 428.4,292 429.35,290.1 429.95,290.1 430.9,292 430.9,292.9" fill="#b22222"/>
<polygon points="431.9,292.9 431.9,277.9 432.8,277.2 434.1,279.4 435.4,277.5 436.6,275.7 437.4,277 438.1,278.2 438.7,278.2 438.85,250 439,240 439.75,240 440.4,263.1 441.4,285.7 442.6,285.7 442.9,292.4 442.9,292.9" fill="#b22222"/>
<line x1="442.5" y1="278.2" x2="442.5" y2="292.9" stroke="#b22222" stroke-width="0.5" stroke-opacity="0.45"/>
<polygon points="449.8,292.9 449.8,277.5 451.9,275.7 453.8,276.9 456.1,275.7 457.6,274.4 458.3,275 459.1,275 460.7,279.4 461.5,280.4 462.2,280.7 463.9,280.7 464.8,278.4 465.7,276.3 467.3,274.5 468.9,272.9 470.1,274.9 471.4,276.9 472.4,278.2 473.3,279.2 474,275.5 474.9,271.7 475.8,269.1 477.7,269.4 478.5,272 479.5,276 480.4,279.4 481.8,277.5 483.3,275.7 484.9,274.2 486.5,272.9 487.7,276.9 489.2,275.4 490.2,277 491.5,278.8 492.4,276.4 493.4,274.2 496.1,274.4 496.9,277.6 497.8,280.7 499.6,281.9 500,291.8 500.9,291.4 502,290.2 503.4,288.9 504.3,287.5 505.3,286.3 506.5,288.2 507,288.4 507.1,280.7 507.7,280.7 507.8,288.5 508.4,288.9 510.9,290.1 511.8,292.4 511.8,292.9" fill="#b22222"/>
<polygon points="524.4,292.9 524.4,292.4 524.7,284 525,279.4 526,277 526.9,275 527.8,274 528.8,273.4 530,275.7 532.6,275.7 534.4,275 535.4,277 536.3,278.8 537.9,276.8 539.5,275 542,276.3 543.9,273.8 545.7,272.5 546.6,274.8 547.6,276.9 549.5,279.4 551.4,279.6 553.3,279.4 555.8,277.2 558.3,274.7 559.4,276.9 560.4,278.8 562.1,277.3 563.9,276 565.5,278.1 567.1,280 569,277.6 570.8,275.4 572.1,277.2 573.4,278.8 575.2,276.3 577.5,274.4 579,276.3 581.5,275 583.4,273.7 585.3,272.5 586.9,272 588.4,271.6 589.4,274.4 590.3,276.9 592.8,279.2 594.3,276.9 595.5,275.4 596.6,274.2 599.1,275.4 600.3,277.5 601.5,279.4 603,277.5 604.1,276.3 605.2,275.3 606.8,276.9 608,278.8 609.1,280.3 610.3,278.8 611.4,277.7 613,276.9 613.8,275.2 614.6,273.8 615.4,276 616.1,277.7 617.7,275.3 620,277.7 622.3,278.1 624.7,279.2 625.9,277.3 627,275.6 629.3,276.9 630.9,279.2 630.9,292.9" fill="#b22222"/>
<line x1="528.2" y1="274.4" x2="528.2" y2="284.5" stroke="#fff" stroke-width="0.5" stroke-opacity="0.85"/>
<line x1="99.4" y1="255" x2="99.4" y2="292.9" stroke="#fff" stroke-width="0.6" stroke-opacity="0.85"/>
<line x1="133.4" y1="255" x2="133.4" y2="292.9" stroke="#fff" stroke-width="0.6" stroke-opacity="0.85"/>
<line x1="458.5" y1="255" x2="458.5" y2="292.9" stroke="#fff" stroke-width="0.6" stroke-opacity="0.85"/>
<line x1="461.3" y1="255" x2="461.3" y2="292.9" stroke="#fff" stroke-width="0.6" stroke-opacity="0.85"/>
<line x1="494.9" y1="255" x2="494.9" y2="292.9" stroke="#fff" stroke-width="0.6" stroke-opacity="0.85"/>
<line x1="593.7" y1="255" x2="593.7" y2="292.9" stroke="#fff" stroke-width="0.6" stroke-opacity="0.85"/>
<rect x="88.9" y="253.3" width="1.9" height="39.6" fill="#b22222" fill-opacity="0.45"/>
<rect x="101.1" y="253.3" width="1" height="39.6" fill="#b22222" fill-opacity="0.55"/>
<rect x="341.5" y="253.7" width="1.3" height="39.2" fill="#b22222" fill-opacity="0.4"/>
<rect x="347.4" y="265" width="1.7" height="27.9" fill="#b22222" fill-opacity="0.35"/>
<rect x="106.5" y="265" width="1.3" height="27.9" fill="#b22222" fill-opacity="0.5"/>
<rect x="550.1" y="261" width="0.8" height="31.9" fill="#b22222" fill-opacity="0.75"/>
<rect x="551.9" y="261" width="1" height="31.9" fill="#b22222" fill-opacity="0.6"/>
<line x1="57.6" y1="284.5" x2="57.6" y2="292.9" stroke="#b22222" stroke-width="0.6" stroke-opacity="0.25"/>
<line x1="68.2" y1="274.4" x2="68.2" y2="292.9" stroke="#b22222" stroke-width="0.6" stroke-opacity="0.5"/>
<line x1="86.4" y1="274.4" x2="86.4" y2="292.9" stroke="#b22222" stroke-width="0.6" stroke-opacity="0.7"/>
<line x1="92.3" y1="260" x2="92.3" y2="292.9" stroke="#b22222" stroke-width="0.6" stroke-opacity="0.8"/>
<line x1="94.6" y1="265.4" x2="94.6" y2="292.9" stroke="#b22222" stroke-width="0.6" stroke-opacity="0.7"/>
<line x1="103.4" y1="260" x2="103.4" y2="292.9" stroke="#b22222" stroke-width="0.6" stroke-opacity="0.8"/>
<line x1="314.2" y1="282.6" x2="314.2" y2="292.9" stroke="#b22222" stroke-width="0.6" stroke-opacity="0.4"/>
<rect x="62.8" y="284.4" width="0.4" height="8.5" fill="#fff" fill-opacity="0.5"/>
<rect x="64" y="284" width="0.5" height="8.9" fill="#fff" fill-opacity="0.4"/>
<rect x="172.3" y="278.2" width="0.4" height="14.7" fill="#fff" fill-opacity="0.2"/>
<text x="0" y="316" font-size="10.9" text-anchor="start" font-weight="bold">c</text>
<line x1="28.55" y1="321" x2="28.55" y2="384.9" stroke="#b4b4b4" stroke-width="0.7"/>
<line x1="27.2" y1="321.3" x2="28.9" y2="321.3" stroke="#b4b4b4" stroke-width="0.7"/>
<text x="26.2" y="323.65" font-size="6.75" text-anchor="end">400</text>
<line x1="27.2" y1="337.1" x2="28.9" y2="337.1" stroke="#b4b4b4" stroke-width="0.7"/>
<text x="26.2" y="339.45" font-size="6.75" text-anchor="end">300</text>
<line x1="27.2" y1="352.95" x2="28.9" y2="352.95" stroke="#b4b4b4" stroke-width="0.7"/>
<text x="26.2" y="355.3" font-size="6.75" text-anchor="end">200</text>
<line x1="27.2" y1="368.8" x2="28.9" y2="368.8" stroke="#b4b4b4" stroke-width="0.7"/>
<text x="26.2" y="371.15" font-size="6.75" text-anchor="end">100</text>
<line x1="27.2" y1="384.6" x2="28.9" y2="384.6" stroke="#b4b4b4" stroke-width="0.7"/>
<text x="26.2" y="386.95" font-size="6.75" text-anchor="end">0</text>
<text x="12.3" y="353.5" font-size="6.95" text-anchor="middle" transform="rotate(-90 12.3 353.5)">Count</text>
<line x1="53.3" y1="384.5" x2="675.6" y2="384.5" stroke="#f3f3f3" stroke-width="1"/>
<rect x="57.9" y="354.9" width="1.2" height="30.1" fill="#b0b0b0"/>
<line x1="63.5" y1="358.9" x2="63.5" y2="385" stroke="#bebebe" stroke-width="0.7" stroke-opacity="0.3"/>
<line x1="76" y1="345.1" x2="76" y2="385" stroke="#bebebe" stroke-width="0.7" stroke-opacity="0.3"/>
<line x1="117.4" y1="343.8" x2="117.4" y2="385" stroke="#bebebe" stroke-width="0.7" stroke-opacity="0.3"/>
<line x1="113.4" y1="370" x2="113.4" y2="385" stroke="#bebebe" stroke-width="0.7" stroke-opacity="0.15"/>
<line x1="126" y1="369.5" x2="126" y2="385" stroke="#bebebe" stroke-width="0.7" stroke-opacity="0.3"/>
<line x1="172.5" y1="365.2" x2="172.5" y2="385" stroke="#bebebe" stroke-width="0.7" stroke-opacity="0.4"/>
<line x1="274.6" y1="367.6" x2="274.6" y2="385" stroke="#bebebe" stroke-width="0.7" stroke-opacity="0.3"/>
<line x1="314.3" y1="341.9" x2="314.3" y2="385" stroke="#bebebe" stroke-width="0.7" stroke-opacity="0.3"/>
<line x1="316.4" y1="342.7" x2="316.4" y2="385" stroke="#bebebe" stroke-width="0.7" stroke-opacity="0.75"/>
<line x1="319.4" y1="337.4" x2="319.4" y2="385" stroke="#bebebe" stroke-width="0.7" stroke-opacity="0.3"/>
<line x1="331.2" y1="362.3" x2="331.2" y2="385" stroke="#bebebe" stroke-width="0.7" stroke-opacity="0.35"/>
<line x1="333.5" y1="363.8" x2="333.5" y2="385" stroke="#bebebe" stroke-width="0.7" stroke-opacity="0.35"/>
<line x1="354.6" y1="370.6" x2="354.6" y2="385" stroke="#bebebe" stroke-width="0.7" stroke-opacity="0.3"/>
<line x1="430.6" y1="342.8" x2="430.6" y2="385" stroke="#bebebe" stroke-width="0.7" stroke-opacity="0.3"/>
<line x1="498.7" y1="368" x2="498.7" y2="385" stroke="#bebebe" stroke-width="0.7" stroke-opacity="0.3"/>
<line x1="576.3" y1="370.3" x2="576.3" y2="385" stroke="#bebebe" stroke-width="0.7" stroke-opacity="0.3"/>
<line x1="614.5" y1="369" x2="614.5" y2="385" stroke="#bebebe" stroke-width="0.7" stroke-opacity="0.3"/>
<line x1="635.6" y1="370.3" x2="635.6" y2="385" stroke="#bebebe" stroke-width="0.7" stroke-opacity="0.3"/>
<line x1="653.7" y1="373.3" x2="653.7" y2="385" stroke="#bebebe" stroke-width="0.7" stroke-opacity="0.3"/>
<line x1="661.7" y1="367.2" x2="661.7" y2="385" stroke="#bebebe" stroke-width="0.7" stroke-opacity="0.3"/>
<polygon points="75.2,385 75.2,362.2 75.5,362 77,362.9 78.9,365.8 80.5,368.3 81.7,371.2 82.5,369 83.3,366.4 83.5,366.4 83.5,385" fill="#bebebe"/>
<rect x="114.9" y="366.2" width="1.3" height="18.8" fill="#b4b4b4"/>
<rect x="116.8" y="366.7" width="1" height="18.3" fill="#bebebe"/>
<polygon points="281.8,385 281.8,369.1 283,369.8 284.4,371.1 285.9,367 287.4,363.5 289.6,363.5 291,366.4 292.4,369.1 294.9,366.9 296.5,365.7 298,364.6 300.2,361.6 301.3,362.5 302.5,363.1 304,362 305.2,363.2 306.3,364.1 308.5,363.1 310,361.7 311.6,360.5 313.1,361.1 313.9,362.5 314.6,363.8 316.9,363.8 318,362.8 319.1,362 320.3,362.6 321.4,363.1 322.5,364.6 323.7,366.1 324.5,363.5 325.2,361.1 326.2,362.3 326.2,385" fill="#bebebe"/>
<polygon points="393,385 393,370.4 394.4,368.7 395.2,366.5 396.1,364.9 399.5,364.4 402.1,363.2 403.3,364.8 404.4,366.1 406.5,364.4 407.8,366.6 409.6,364.9 411.6,367.3 414.2,366.6 415.3,364.5 416.3,362.7 417.3,364.5 418.2,366.1 420.6,367.9 422.9,365.6 424,367 425.1,368.4 426.2,366.6 427.2,364.9 428.5,362.6 429.8,360.4 431,361 432,361 432,385" fill="#bebebe"/>
<rect x="439" y="318.3" width="2.15" height="66.7" fill="#bebebe"/>
<rect x="441" y="383.4" width="2.6" height="1.6" fill="#bebebe"/>
<polygon points="499.9,385 499.9,380.8 501.2,381.4 502.5,382 504,381.6 505.5,381.2 506.1,380.2 506.7,379.3 507.3,379.3 508.1,378.6 509.5,377.9 510.8,377.1 512,375.3 513.1,373.7 514.2,372.8 515.3,372.1 516.5,372.8 517.6,373.7 519,375.1 520.6,376.7 521.8,378.6 522.9,380.5 523.8,382 524.7,383.5 525.2,384.4 525.2,385" fill="#bebebe"/>
<line x1="507.4" y1="378" x2="507.4" y2="385" stroke="#fff" stroke-width="0.5" stroke-opacity="0.85"/>
<line x1="528.5" y1="383.3" x2="528.5" y2="385" stroke="#999" stroke-width="0.6" stroke-opacity="0.9"/>
<line x1="28.55" y1="399.3" x2="28.55" y2="449.8" stroke="#b4b4b4" stroke-width="0.7"/>
<line x1="27.2" y1="399.6" x2="28.9" y2="399.6" stroke="#b4b4b4" stroke-width="0.7"/>
<text x="26.2" y="401.95" font-size="6.75" text-anchor="end">20</text>
<line x1="27.2" y1="412.1" x2="28.9" y2="412.1" stroke="#b4b4b4" stroke-width="0.7"/>
<text x="26.2" y="414.45" font-size="6.75" text-anchor="end">15</text>
<line x1="27.2" y1="424.55" x2="28.9" y2="424.55" stroke="#b4b4b4" stroke-width="0.7"/>
<text x="26.2" y="426.9" font-size="6.75" text-anchor="end">10</text>
<line x1="27.2" y1="437" x2="28.9" y2="437" stroke="#b4b4b4" stroke-width="0.7"/>
<text x="26.2" y="439.35" font-size="6.75" text-anchor="end">5</text>
<line x1="27.2" y1="449.5" x2="28.9" y2="449.5" stroke="#b4b4b4" stroke-width="0.7"/>
<text x="26.2" y="451.85" font-size="6.75" text-anchor="end">0</text>
<text x="12.3" y="424.4" font-size="6.95" text-anchor="middle" transform="rotate(-90 12.3 424.4)">G−statistic</text>
<line x1="53.3" y1="432.7" x2="675.2" y2="432.7" stroke="#f4dedc" stroke-width="1.25"/>
<line x1="53" y1="451.5" x2="675.7" y2="451.5" stroke="#dadada" stroke-width="1"/>
<line x1="53.5" y1="451.5" x2="53.5" y2="453.1" stroke="#c4c4c4" stroke-width="0.8"/>
<text x="53.8" y="460.6" font-size="6.75" text-anchor="middle">1</text>
<line x1="228.6" y1="451.5" x2="228.6" y2="453.1" stroke="#c4c4c4" stroke-width="0.8"/>
<text x="228.9" y="460.6" font-size="6.75" text-anchor="middle">5000</text>
<line x1="403.8" y1="451.5" x2="403.8" y2="453.1" stroke="#c4c4c4" stroke-width="0.8"/>
<text x="404.1" y="460.6" font-size="6.75" text-anchor="middle">10000</text>
<line x1="579" y1="451.5" x2="579" y2="453.1" stroke="#c4c4c4" stroke-width="0.8"/>
<text x="579.3" y="460.6" font-size="6.75" text-anchor="middle">15000</text>
<line x1="675" y1="451.5" x2="675" y2="453.1" stroke="#c4c4c4" stroke-width="0.8"/>
<text x="676" y="460.6" font-size="6.75" text-anchor="middle">17743</text>
<text x="364.2" y="463.1" font-size="6.75" text-anchor="middle">Position</text>
<line x1="53.3" y1="449.4" x2="675.6" y2="449.4" stroke="#f4f4f4" stroke-width="1"/>
<line x1="63.3" y1="447.7" x2="63.3" y2="449.9" stroke="#aaa" stroke-width="0.6" stroke-opacity="0.3"/>
<line x1="69.4" y1="447.2" x2="69.4" y2="449.9" stroke="#aaa" stroke-width="0.6" stroke-opacity="0.3"/>
<line x1="83.4" y1="444.4" x2="83.4" y2="449.9" stroke="#aaa" stroke-width="0.6" stroke-opacity="0.7"/>
<line x1="117.4" y1="442.7" x2="117.4" y2="449.9" stroke="#aaa" stroke-width="0.6" stroke-opacity="0.3"/>
<line x1="151.8" y1="447.2" x2="151.8" y2="449.9" stroke="#aaa" stroke-width="0.6" stroke-opacity="0.3"/>
<line x1="163" y1="447.5" x2="163" y2="449.9" stroke="#aaa" stroke-width="0.6" stroke-opacity="0.25"/>
<line x1="167.4" y1="447.5" x2="167.4" y2="449.9" stroke="#aaa" stroke-width="0.6" stroke-opacity="0.25"/>
<line x1="197.5" y1="447.5" x2="197.5" y2="449.9" stroke="#aaa" stroke-width="0.6" stroke-opacity="0.25"/>
<line x1="203.8" y1="447.5" x2="203.8" y2="449.9" stroke="#aaa" stroke-width="0.6" stroke-opacity="0.25"/>
<line x1="219" y1="447.5" x2="219" y2="449.9" stroke="#aaa" stroke-width="0.6" stroke-opacity="0.2"/>
<line x1="232" y1="447.5" x2="232" y2="449.9" stroke="#aaa" stroke-width="0.6" stroke-opacity="0.2"/>
<line x1="282.6" y1="447.4" x2="282.6" y2="449.9" stroke="#aaa" stroke-width="0.6" stroke-opacity="0.5"/>
<line x1="300.5" y1="436.2" x2="300.5" y2="449.9" stroke="#aaa" stroke-width="0.6" stroke-opacity="0.3"/>
<line x1="319.5" y1="436.2" x2="319.5" y2="449.9" stroke="#aaa" stroke-width="0.6" stroke-opacity="0.35"/>
<line x1="333.5" y1="447.4" x2="333.5" y2="449.9" stroke="#aaa" stroke-width="0.6" stroke-opacity="0.3"/>
<line x1="365.1" y1="443.9" x2="365.1" y2="449.9" stroke="#aaa" stroke-width="0.6" stroke-opacity="0.25"/>
<line x1="470.7" y1="447.5" x2="470.7" y2="449.9" stroke="#aaa" stroke-width="0.6" stroke-opacity="0.25"/>
<line x1="474.4" y1="447.5" x2="474.4" y2="449.9" stroke="#aaa" stroke-width="0.6" stroke-opacity="0.25"/>
<line x1="498.3" y1="447.5" x2="498.3" y2="449.9" stroke="#aaa" stroke-width="0.6" stroke-opacity="0.25"/>
<line x1="525" y1="447.5" x2="525" y2="449.9" stroke="#aaa" stroke-width="0.6" stroke-opacity="0.2"/>
<line x1="599.7" y1="446" x2="599.7" y2="449.9" stroke="#aaa" stroke-width="0.6" stroke-opacity="0.25"/>
<line x1="607.7" y1="446.5" x2="607.7" y2="449.9" stroke="#aaa" stroke-width="0.6" stroke-opacity="0.25"/>
<line x1="614.8" y1="446" x2="614.8" y2="449.9" stroke="#aaa" stroke-width="0.6" stroke-opacity="0.25"/>
<line x1="623.6" y1="446.5" x2="623.6" y2="449.9" stroke="#aaa" stroke-width="0.6" stroke-opacity="0.25"/>
<line x1="644.4" y1="446" x2="644.4" y2="449.9" stroke="#aaa" stroke-width="0.6" stroke-opacity="0.25"/>
<line x1="650.7" y1="446.5" x2="650.7" y2="449.9" stroke="#aaa" stroke-width="0.6" stroke-opacity="0.25"/>
<line x1="653.7" y1="444" x2="653.7" y2="449.9" stroke="#aaa" stroke-width="0.6" stroke-opacity="0.3"/>
<rect x="75.3" y="448.3" width="0.9" height="1.6" fill="#999" fill-opacity="0.8"/>
<polygon points="286.5,449.9 286.5,449 287.5,446 288.5,443.5 289.4,442.1 290.2,443.5 290.8,446.5 291.3,449 291.3,449.9" fill="#bebebe" fill-opacity="0.8"/>
<polygon points="296.2,449.9 296.2,449 297,446 297.9,444 299,441 300,439.4 300.5,438.5 301,440.5 301.6,444 302.4,447 303.2,448.7 303.2,449.9" fill="#bebebe" fill-opacity="0.8"/>
<polygon points="305.1,449.9 305.1,448.5 305.7,444 306.3,439.6 306.8,443 307.3,445.5 307.8,443 308.3,439.2 308.8,443 309.5,448.5 309.5,449.9" fill="#bebebe" fill-opacity="0.8"/>
<polygon points="314.1,449.9 314.1,439.2 314.4,439.2 315.2,443 316,446.5 316.8,448.9 316.8,449.9" fill="#bebebe" fill-opacity="0.8"/>
<polygon points="317.8,449.9 317.8,448.8 318.5,448.4 319.2,448.9 319.2,449.9" fill="#bebebe" fill-opacity="0.8"/>
<polygon points="324.1,449.9 324.1,448.9 325,445 325.8,440.5 326.2,437.7 326.5,441 326.5,449.9" fill="#bebebe" fill-opacity="0.75"/>
<polygon points="395.9,449.9 395.9,448.8 396.3,446.5 396.5,444.7 396.9,446.7 397.5,448 399,448.9 399,449.9" fill="#bebebe" fill-opacity="0.8"/>
<polygon points="402.8,449.9 402.8,448.9 404,448.5 405.5,448.9 407,448.4 409,448.9 409,449.9" fill="#bebebe" fill-opacity="0.7"/>
<polygon points="428,449.9 428,448.8 428.8,447 429.4,444.7 429.7,443.2 430.1,444.8 430.8,447.4 431.7,448.8 431.7,449.9" fill="#bebebe" fill-opacity="0.8"/>
<polygon points="297.9,449.9 297.9,449 298.1,436 298.4,425.5 298.7,432 299,449 299,449.9" fill="#b22222" fill-opacity="0.9"/>
<polygon points="304.15,449.9 304.15,449 304.35,429.9 304.65,429.9 304.85,449 304.85,449.9" fill="#b22222" fill-opacity="0.8"/>
<polygon points="311.2,449.9 311.2,449 311.3,430 311.6,422.6 312,425 312.4,427 312.8,429 313.1,430.4 313.6,431.5 313.9,432.4 314.1,449 314.1,449.9" fill="#b22222" fill-opacity="0.92"/>
<line x1="314.4" y1="424.1" x2="314.4" y2="439" stroke="#b22222" stroke-width="0.5" stroke-opacity="0.45"/>
</svg>
</body>
</html>
